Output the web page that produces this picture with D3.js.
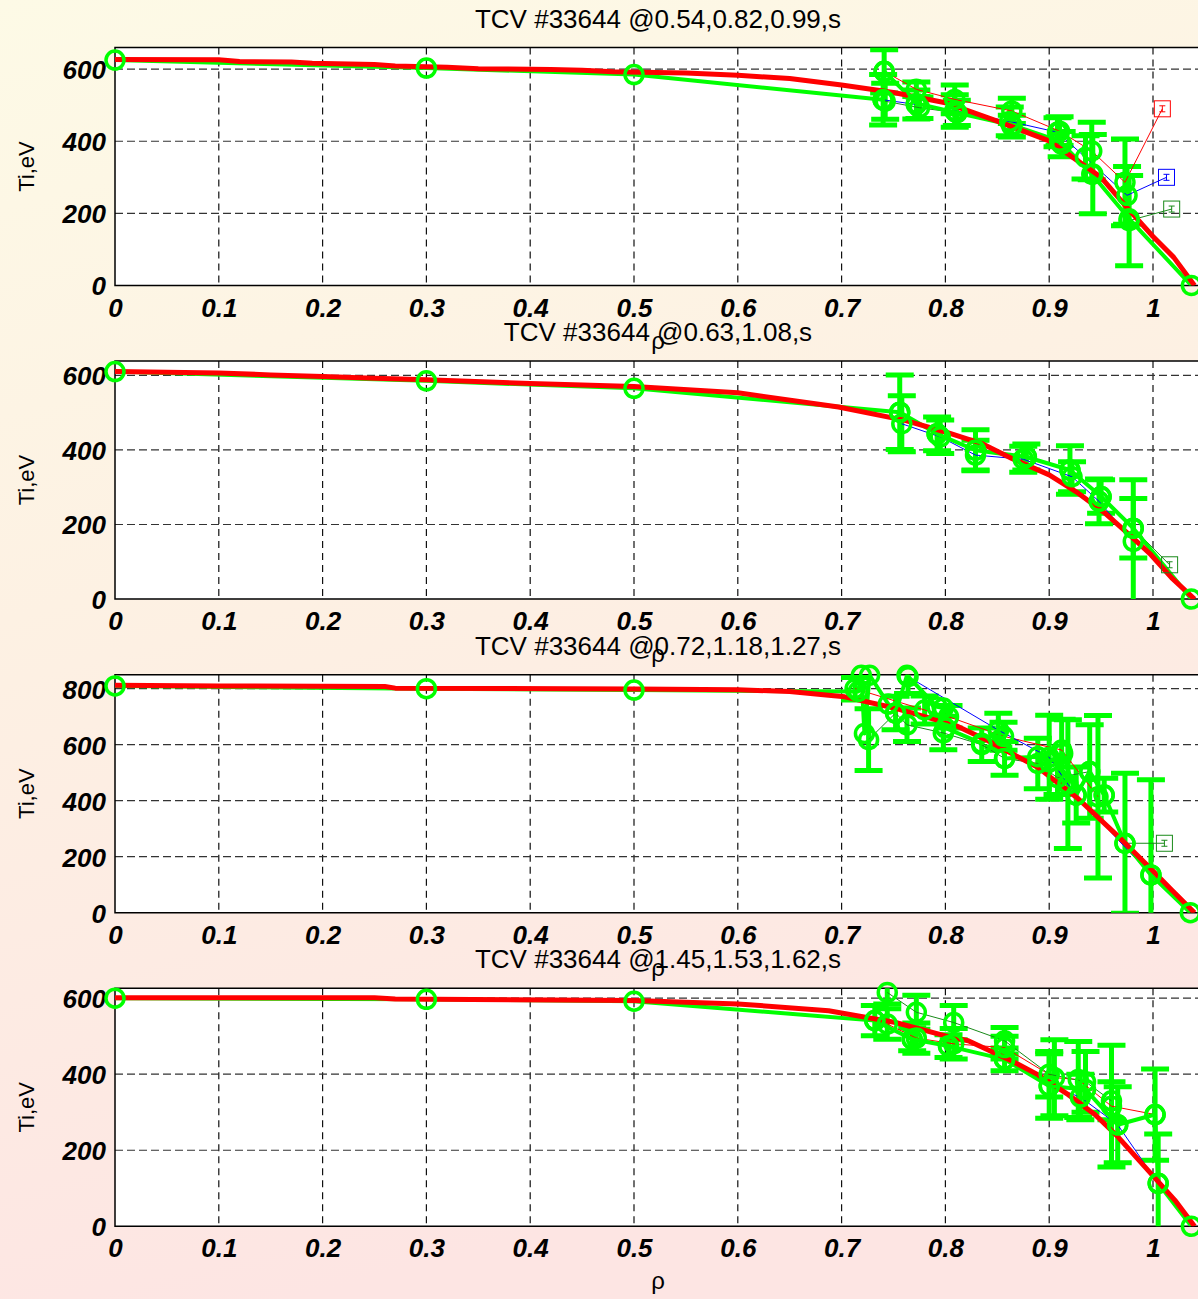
<!DOCTYPE html>
<html>
<head>
<meta charset="utf-8">
<script src="https://cdn.jsdelivr.net/npm/d3@7"></script>
<style>
  html, body { margin: 0; padding: 0; overflow: hidden; }
  svg { display: block; }
</style>
</head>
<body>
<svg id="chart" width="1198" height="1299"></svg>
<script>
// ---- data ----
const titles = [
  'TCV #33644 @0.54,0.82,0.99,s',
  'TCV #33644 @0.63,1.08,s',
  'TCV #33644 @0.72,1.18,1.27,s',
  'TCV #33644 @1.45,1.53,1.62,s'
];
const xTicks = [0, 0.1, 0.2, 0.3, 0.4, 0.5, 0.6, 0.7, 0.8, 0.9, 1];
const xTickLabels = ['0', '0.1', '0.2', '0.3', '0.4', '0.5', '0.6', '0.7', '0.8', '0.9', '1'];
const yMaxes = [660, 638, 850, 626];
const yTicks = [
  [0, 200, 400, 600],
  [0, 200, 400, 600],
  [0, 200, 400, 600, 800],
  [0, 200, 400, 600]
];

// panel 1 : [rho, Ti] profile, fit, and measured [rho, Ti, err] per time
const p1Red = [[0,627],[0.1,626],[0.12,621],[0.17,620],[0.19,616],[0.25,613],[0.27,609],[0.32,605],[0.35,601],[0.42,599],[0.45,597],[0.48,593],[0.55,589],[0.6,583],[0.65,574],[0.7,556],[0.75,535],[0.8,507],[0.85,456],[0.9,401],[0.95,300],[0.975,216],[1.0,136],[1.02,78],[1.04,0]];
const p1Fit = [[0,625],[0.3,603],[0.5,585],[0.740,515],[0.741,594],[0.772,505],[0.811,479],[0.864,445],[0.91,400],[0.941,309],[0.977,185],[1.037,0]];
const p1T1 = [[0.741,594,60],[0.772,544,20],[0.809,516,40],[0.864,484,35],[0.91,428,40],[0.941,373,80],[0.973,286,120]];
const p1T2 = [[0.740,515,70],[0.772,502,40],[0.809,484,45],[0.862,455,40],[0.908,425,40],[0.935,355,60],[0.975,250,80]];
const p1T3 = [[0.742,511,50],[0.775,493,30],[0.811,479,35],[0.864,442,30],[0.912,392,35],[0.942,309,110],[0.977,180,125]];
const p1Edge = [[1.009,490],[1.013,300],[1.018,212]];

// panel 2
const p2Red = [[0,610],[0.1,606],[0.15,601],[0.2,597],[0.25,592],[0.3,588],[0.4,578],[0.5,570],[0.6,553],[0.697,515],[0.761,479],[0.8,448],[0.835,417],[0.864,377],[0.9,333],[0.928,284],[0.954,230],[0.979,168],[0.998,119],[1.018,57],[1.04,0]];
const p2Fit = [[0,610],[0.3,585],[0.5,565],[0.756,501],[0.792,443],[0.829,399],[0.878,381],[0.92,346],[0.95,275],[0.981,190],[1.037,0]];
const p2T1 = [[0.758,470,75],[0.795,435,45],[0.829,386,40],[0.875,375,35],[0.922,328,40],[0.948,262,60],[0.981,155,165]];
const p2T2 = [[0.756,501,100],[0.792,443,45],[0.829,399,55],[0.878,381,35],[0.92,346,65],[0.95,275,45],[0.981,190,80]];
const p2Edge = [null, [1.016,92]];

// panel 3
const p3Red = [[0,812],[0.1,810],[0.26,808],[0.27,802],[0.5,799],[0.6,796],[0.65,790],[0.6875,777],[0.703,771],[0.752,730],[0.809,670],[0.841,614],[0.889,519],[0.928,407],[0.97,260],[0.996,164],[1.018,81],[1.04,0]];
const p3Fit = [[0,810],[0.3,800],[0.5,795],[0.716,790],[0.719,848],[0.722,640],[0.727,848],[0.745,745],[0.752,713],[0.763,848],[0.792,735],[0.798,731],[0.8,660],[0.835,605],[0.851,652],[0.857,551],[0.889,557],[0.9,539],[0.913,569],[0.926,420],[0.939,504],[0.953,420],[0.973,248],[0.998,135],[1.036,0]];
const p3T1 = [[0.713,800,40],[0.78,724,50],[0.803,700,40],[0.856,630,50],[0.912,581,110],[0.947,414,290]];
const p3T2 = [[0.764,843,60],[0.851,652,60],[0.9,555,150],[0.918,459,230],[0.926,420,100],[0.998,135,340]];
const p3T3 = [[0.726,618,110],[0.752,713,60],[0.763,671,60],[0.798,642,60],[0.835,600,60],[0.857,551,60],[0.889,533,90],[0.908,482,60],[0.939,504,167],[0.953,420,60],[0.973,248,250]];
const p3Edge = [null, null, [1.011,248]];

// panel 4
const p4Red = [[0,601],[0.25,601],[0.27,598],[0.5,594],[0.6,585],[0.6875,567],[0.752,536],[0.8,501],[0.822,488],[0.864,435],[0.889,399],[0.918,347],[0.944,294],[0.966,236],[0.992,157],[1.021,69],[1.04,0]];
const p4Fit = [[0,600],[0.3,597],[0.5,592],[0.732,541],[0.768,492],[0.803,474],[0.857,439],[0.9,369],[0.935,360],[0.966,267],[1.002,294],[1.005,113],[1.037,0]];
const p4T1 = [[0.744,532,40],[0.772,495,40],[0.808,480,40],[0.857,470,30],[0.905,391,100],[0.928,386,100],[0.96,316,160],[1.002,294,120]];
const p4T2 = [[0.732,541,40],[0.768,492,30],[0.803,474,30],[0.857,439,30],[0.9,369,85],[0.93,340,60],[0.966,267,100],[1.005,113,130]];
const p4T3 = [[0.744,615,30],[0.772,563,45],[0.808,536,45],[0.857,488,35],[0.9,400,60],[0.935,380,80],[0.96,330,50]];
const p4Edge = [null, null, null];

const panels = [
  { red: p1Red, fit: p1Fit, series: [p1T1, p1T2, p1T3], colors: ['#ff0000', '#0000ff', '#1a8a1a'], edges: p1Edge },
  { red: p2Red, fit: p2Fit, series: [p2T1, p2T2], colors: ['#0000ff', '#1a8a1a'], edges: p2Edge },
  { red: p3Red, fit: p3Fit, series: [p3T1, p3T2, p3T3], colors: ['#ff0000', '#0000ff', '#1a8a1a'], edges: p3Edge },
  { red: p4Red, fit: p4Fit, series: [p4T1, p4T2, p4T3], colors: ['#ff0000', '#0000ff', '#1a8a1a'], edges: p4Edge }
];

// ---- drawing ----
const W = 1198, H = 1299;
const left = 115, unit = 1038, plotH = 238;
const green = '#00ff00';
const font = "'Liberation Sans', Arial, Helvetica, sans-serif";

const svg = d3.select('#chart');
const defs = svg.append('defs');
const grad = defs.append('linearGradient')
  .attr('id', 'bg').attr('x1', 0).attr('y1', 0).attr('x2', 0.25).attr('y2', 1);
grad.append('stop').attr('offset', 0).attr('stop-color', '#fdfae6');
grad.append('stop').attr('offset', 0.45).attr('stop-color', '#fdf1e3');
grad.append('stop').attr('offset', 1).attr('stop-color', '#fde5e3');
svg.append('rect').attr('width', W).attr('height', H).attr('fill', 'url(#bg)');

const x = d3.scaleLinear().domain([0, 1.05]).range([left, left + unit * 1.05]);

panels.forEach((p, i) => {
  const top = 47.5 + i * 313.6;
  const bottom = top + plotH;
  const yMax = yMaxes[i];
  const y = d3.scaleLinear().domain([0, yMax]).range([bottom, top]);
  const g = svg.append('g');

  defs.append('clipPath').attr('id', 'clip' + i)
    .append('rect').attr('x', left).attr('y', top).attr('width', 1200).attr('height', plotH);

  g.append('rect').attr('x', left).attr('y', top).attr('width', W - left).attr('height', plotH).attr('fill', '#fff');

  // grid
  g.append('g').selectAll('line').data(xTicks.slice(1)).enter().append('line')
    .attr('x1', d => x(d)).attr('x2', d => x(d)).attr('y1', top).attr('y2', bottom)
    .attr('stroke', '#111').attr('stroke-width', 1.2).attr('stroke-dasharray', '7,5');
  g.append('g').selectAll('line').data(yTicks[i].slice(1)).enter().append('line')
    .attr('x1', left).attr('x2', W).attr('y1', d => y(d)).attr('y2', d => y(d))
    .attr('stroke', '#333').attr('stroke-width', 1.2).attr('stroke-dasharray', '8,4');

  // axes
  const xAxis = g.append('g').attr('transform', `translate(0,${bottom})`)
    .call(d3.axisBottom(x).tickValues(xTicks).tickFormat((d, k) => xTickLabels[k]).tickSize(0));
  xAxis.select('.domain').remove();
  xAxis.selectAll('text').attr('y', 31).attr('dy', null);
  const yAxis = g.append('g').attr('transform', `translate(${left},0)`)
    .call(d3.axisLeft(y).tickValues(yTicks[i]).tickSize(0).tickPadding(9));
  yAxis.select('.domain').remove();
  yAxis.selectAll('text').attr('dy', '0.36em');
  g.selectAll('.tick text')
    .style('font-family', font).style('font-size', '26px')
    .style('font-weight', 'bold').style('font-style', 'italic').attr('fill', '#000');

  g.append('path').attr('d', `M${W},${top}H${left}V${bottom}H${W}`)
    .attr('fill', 'none').attr('stroke', '#000').attr('stroke-width', 1.5);

  // data
  const data = g.append('g');
  const clipped = data.append('g').attr('clip-path', `url(#clip${i})`);
  const line = d3.line().x(d => x(d[0])).y(d => y(d[1]));
  const inside = d => d[1] <= yMax && d[1] >= 0;

  // error bars of the measured points
  p.series.forEach(s => {
    const eb = clipped.append('g').attr('stroke', green).attr('stroke-width', 5).attr('fill', 'none');
    s.forEach(d => {
      const cx = x(d[0]), y1 = y(d[1] + d[2]), y2 = y(d[1] - d[2]);
      eb.append('path').attr('d', `M${cx},${y1}V${y2}M${cx - 14},${y1}H${cx + 14}M${cx - 14},${y2}H${cx + 14}`);
    });
  });
  // thin lines per time slice
  p.series.forEach((s, k) => {
    const pts = s.map(d => [d[0], d[1]]);
    if (p.edges[k]) pts.push(p.edges[k]);
    clipped.append('path').attr('d', line(pts)).attr('fill', 'none')
      .attr('stroke', p.colors[k]).attr('stroke-width', 1);
  });
  // measured circles
  p.series.forEach(s => {
    data.append('g').selectAll('circle').data(s.filter(inside)).enter().append('circle')
      .attr('cx', d => x(d[0])).attr('cy', d => y(d[1])).attr('r', 9)
      .attr('fill', 'none').attr('stroke', green).attr('stroke-width', 3.5);
  });
  // edge points: square markers with tiny error bar
  p.edges.forEach((e, k) => {
    if (!e) return;
    const ex = x(e[0]), ey = y(e[1]);
    data.append('rect').attr('x', ex - 8).attr('y', ey - 8).attr('width', 16).attr('height', 16)
      .attr('fill', 'none').attr('stroke', p.colors[k]).attr('stroke-width', 1);
    data.append('path').attr('d', `M${ex},${ey - 3}V${ey + 3}M${ex - 3},${ey - 3}H${ex + 3}M${ex - 3},${ey + 3}H${ex + 3}`)
      .attr('fill', 'none').attr('stroke', p.colors[k]).attr('stroke-width', 1);
  });
  // thick green fit with circles
  clipped.append('path').attr('d', line(p.fit)).attr('fill', 'none')
    .attr('stroke', green).attr('stroke-width', 4).attr('stroke-linejoin', 'round');
  data.append('g').selectAll('circle').data(p.fit.filter(inside)).enter().append('circle')
    .attr('cx', d => x(d[0])).attr('cy', d => y(d[1])).attr('r', 9)
    .attr('fill', 'none').attr('stroke', green).attr('stroke-width', 3.5);
  // red profile
  clipped.append('path').attr('d', line(p.red)).attr('fill', 'none')
    .attr('stroke', '#ff0000').attr('stroke-width', 5).attr('stroke-linejoin', 'round');

  // labels
  svg.append('text').attr('x', 658).attr('y', top - 20).attr('text-anchor', 'middle')
    .style('font-family', font).style('font-size', '26px').text(titles[i]);
  svg.append('text').attr('x', 658).attr('y', bottom + 63).attr('text-anchor', 'middle')
    .style('font-family', font).style('font-size', '24px').text('ρ');
  svg.append('text').attr('transform', `translate(34,${top + plotH / 2}) rotate(-90)`)
    .attr('text-anchor', 'middle')
    .style('font-family', font).style('font-size', '22px').text('Ti,eV');
});
</script>
</body>
</html>
